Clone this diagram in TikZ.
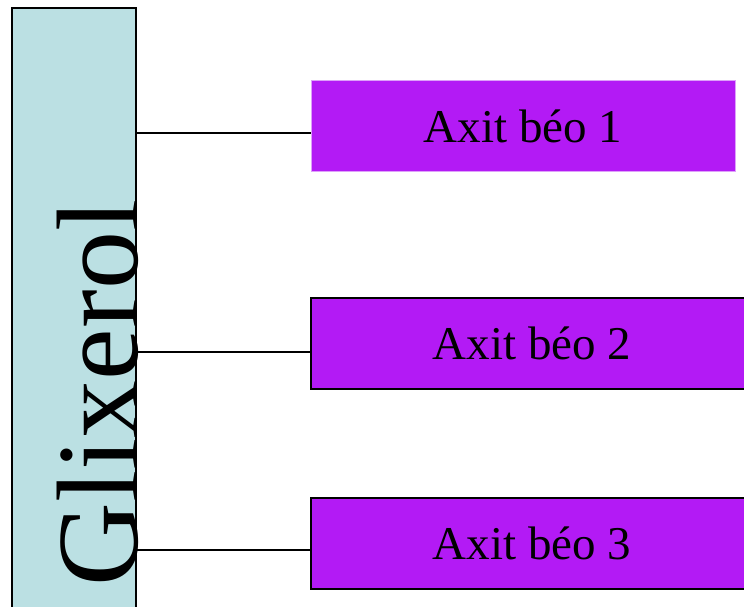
\documentclass[tikz,border=0pt]{standalone}
\usepackage{fontspec}
\setmainfont{Liberation Serif}
\usetikzlibrary{positioning}

\definecolor{glixblue}{RGB}{187,224,227}
\definecolor{axitpurple}{RGB}{179,26,245}
\definecolor{axitedge}{RGB}{222,160,250}

\begin{document}
\begin{tikzpicture}[
    x=1pt, y=1pt,
    glixbox/.style={rectangle, draw=black, line width=1.5pt, fill=glixblue,
                    minimum width=124pt, minimum height=603pt, inner sep=0pt},
    glixtext/.style={font=\fontsize{116}{116}\selectfont, rotate=90, anchor=base,
                     inner sep=0pt},
    axit/.style={rectangle, draw=black, line width=2pt, fill=axitpurple,
                 minimum height=91pt, inner sep=0pt,
                 font=\fontsize{47}{47}\selectfont},
    link/.style={draw=black, line width=1.2pt}
  ]
    \useasboundingbox (0,0) rectangle (744,606);
    \clip (0,0) rectangle (744,606);

    % Glixerol backbone (left)
    \node[glixbox] (glixerol) at (74,296.5) {};
    \node[glixtext] (glixlabel) at (137,213) {Glixerol};

    % Fatty acid chains (right)
    \node[axit, draw=axitedge, line width=0.8pt, minimum width=424pt] (ax1) at (523,480) {Axit béo 1};
    \node[axit, minimum width=442pt] (ax2) at (532,262.5) {Axit béo 2};
    \node[axit, minimum width=442pt] (ax3) at (532,63) {Axit béo 3};

    % Junction points on the chain boxes
    \coordinate (j1) at ([yshift=-7pt]ax1.west);
    \coordinate (j2) at ([yshift=-8.5pt]ax2.west);
    \coordinate (j3) at ([yshift=-7pt]ax3.west);

    % Ester links
    \draw[link] (j1 -| glixerol.east) -- (j1);
    \draw[link] (j2 -| glixerol.east) -- (j2);
    \draw[link] (j3 -| glixerol.east) -- (j3);

\end{tikzpicture}
\end{document}
